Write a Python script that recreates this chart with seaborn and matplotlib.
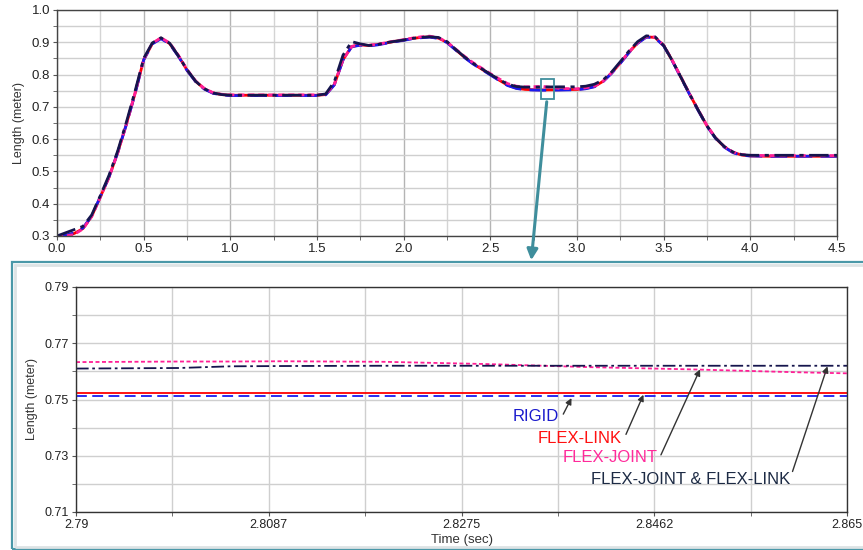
import numpy as np
import pandas as pd
import seaborn as sns
import matplotlib.pyplot as plt
from matplotlib.patches import Rectangle, FancyArrowPatch
from matplotlib.ticker import MultipleLocator, FixedLocator

# full run: time (sec) and cable length (meter) for the four models
t_full = [0.00, 0.05, 0.10, 0.15, 0.20, 0.25, 0.30, 0.35, 0.40, 0.45, 0.50, 0.55, 0.60, 0.65, 0.70,
          0.75, 0.80, 0.85, 0.90, 0.95, 1.00, 1.20, 1.40, 1.50, 1.55, 1.60, 1.65, 1.70, 1.75, 1.80,
          1.85, 1.90, 1.95, 2.00, 2.05, 2.10, 2.15, 2.20, 2.25, 2.30, 2.35, 2.40, 2.45, 2.50, 2.55,
          2.60, 2.65, 2.70, 2.75, 2.80, 2.90, 3.00, 3.05, 3.10, 3.15, 3.20, 3.25, 3.30, 3.35, 3.40,
          3.45, 3.50, 3.55, 3.60, 3.65, 3.70, 3.75, 3.80, 3.85, 3.90, 3.95, 4.00, 4.10, 4.30, 4.50]

rigid = [0.300, 0.302, 0.310, 0.325, 0.362, 0.422, 0.483, 0.558, 0.645, 0.740, 0.845, 0.895, 0.911, 0.895, 0.857,
         0.813, 0.778, 0.755, 0.742, 0.737, 0.735, 0.735, 0.735, 0.735, 0.737, 0.768, 0.845, 0.886, 0.891, 0.889,
         0.892, 0.897, 0.902, 0.906, 0.911, 0.914, 0.916, 0.912, 0.899, 0.876, 0.853, 0.833, 0.816, 0.799, 0.782,
         0.766, 0.757, 0.753, 0.752, 0.7515, 0.752, 0.753, 0.756, 0.762, 0.778, 0.804, 0.835, 0.868, 0.897, 0.916,
         0.914, 0.889, 0.842, 0.790, 0.738, 0.688, 0.640, 0.602, 0.575, 0.558, 0.550, 0.548, 0.547, 0.547, 0.547]

flex_link = [0.300, 0.301, 0.308, 0.323, 0.361, 0.421, 0.482, 0.558, 0.646, 0.741, 0.846, 0.896, 0.913, 0.896, 0.858,
             0.814, 0.779, 0.756, 0.743, 0.738, 0.736, 0.736, 0.736, 0.736, 0.738, 0.769, 0.846, 0.887, 0.892, 0.890,
             0.893, 0.898, 0.903, 0.907, 0.912, 0.915, 0.917, 0.913, 0.900, 0.877, 0.854, 0.834, 0.817, 0.800, 0.783,
             0.767, 0.758, 0.754, 0.753, 0.7525, 0.753, 0.754, 0.757, 0.763, 0.779, 0.805, 0.836, 0.869, 0.898, 0.917,
             0.915, 0.890, 0.843, 0.791, 0.739, 0.689, 0.641, 0.603, 0.576, 0.559, 0.551, 0.548, 0.547, 0.547, 0.547]

flex_joint = [0.300, 0.300, 0.305, 0.322, 0.360, 0.420, 0.482, 0.557, 0.645, 0.742, 0.847, 0.897, 0.914, 0.898, 0.860,
              0.816, 0.780, 0.757, 0.744, 0.739, 0.737, 0.737, 0.737, 0.737, 0.739, 0.770, 0.846, 0.887, 0.893, 0.891,
              0.894, 0.899, 0.904, 0.908, 0.913, 0.917, 0.919, 0.914, 0.901, 0.879, 0.857, 0.837, 0.820, 0.803, 0.787,
              0.772, 0.764, 0.762, 0.7625, 0.7635, 0.757, 0.756, 0.759, 0.764, 0.779, 0.806, 0.837, 0.870, 0.899, 0.918,
              0.916, 0.891, 0.844, 0.792, 0.740, 0.690, 0.642, 0.604, 0.577, 0.560, 0.552, 0.550, 0.549, 0.549, 0.549]

flex_both = [0.300, 0.310, 0.320, 0.330, 0.365, 0.425, 0.488, 0.563, 0.652, 0.748, 0.850, 0.898, 0.914, 0.897, 0.858,
             0.815, 0.779, 0.756, 0.743, 0.738, 0.736, 0.736, 0.736, 0.736, 0.740, 0.778, 0.860, 0.902, 0.895, 0.890,
             0.893, 0.899, 0.903, 0.907, 0.912, 0.915, 0.917, 0.915, 0.902, 0.878, 0.855, 0.835, 0.818, 0.801, 0.785,
             0.770, 0.763, 0.761, 0.761, 0.7615, 0.762, 0.762, 0.764, 0.770, 0.783, 0.808, 0.840, 0.873, 0.902, 0.920,
             0.917, 0.890, 0.843, 0.791, 0.739, 0.689, 0.641, 0.603, 0.577, 0.560, 0.552, 0.550, 0.550, 0.550, 0.550]

# zoomed window 2.79 - 2.865 s
t_zoom = [2.790, 2.800, 2.805, 2.810, 2.820, 2.830, 2.840, 2.850, 2.860, 2.865]
rigid_zoom = [0.7512, 0.7512, 0.7512, 0.7512, 0.7512, 0.7512, 0.7512, 0.7512, 0.7512, 0.7512]
flex_link_zoom = [0.7522, 0.7522, 0.7522, 0.7522, 0.7522, 0.7522, 0.7522, 0.7522, 0.7522, 0.7522]
flex_joint_zoom = [0.7633, 0.7635, 0.7635, 0.7636, 0.7634, 0.7626, 0.7615, 0.7607, 0.7597, 0.7593]
flex_both_zoom = [0.7610, 0.7612, 0.7618, 0.7619, 0.7620, 0.7620, 0.7620, 0.7620, 0.7620, 0.7620]

names = ['RIGID', 'FLEX-LINK', 'FLEX-JOINT', 'FLEX-JOINT & FLEX-LINK']
draw_order = ['FLEX-LINK', 'RIGID', 'FLEX-JOINT', 'FLEX-JOINT & FLEX-LINK']
colors = {'RIGID': '#1a1aee', 'FLEX-LINK': '#ff0000', 'FLEX-JOINT': '#ff1f96', 'FLEX-JOINT & FLEX-LINK': '#15154d'}
dashes = {'RIGID': (6, 3), 'FLEX-LINK': '', 'FLEX-JOINT': (2.2, 1.4), 'FLEX-JOINT & FLEX-LINK': (7, 2, 1.5, 2)}
label_colors = {'RIGID': '#1a1acc', 'FLEX-LINK': '#ff1010', 'FLEX-JOINT': '#ff2a9a', 'FLEX-JOINT & FLEX-LINK': '#1c2a44'}


def long_frame(t, cols):
    rows = []
    for name, vals in zip(names, cols):
        for x, y in zip(t, vals):
            rows.append([name, x, y])
    return pd.DataFrame(rows, columns=['model', 'time', 'length'])


df_full = long_frame(t_full, [rigid, flex_link, flex_joint, flex_both])
df_zoom = long_frame(t_zoom, [rigid_zoom, flex_link_zoom, flex_joint_zoom, flex_both_zoom])

sns.set_style('white')
plt.rcParams['font.family'] = ['Liberation Sans', 'DejaVu Sans']

fig = plt.figure(figsize=(8.63, 5.5), dpi=100)
W, H = 863.0, 550.0
ax_top = fig.add_axes([57 / W, 1 - 236 / H, (837 - 57) / W, (236 - 10) / H])
ax_bot = fig.add_axes([76 / W, 1 - 512 / H, (847 - 76) / W, (512 - 287) / H])

# --- top: whole motion
sns.lineplot(data=df_full, x='time', y='length', hue='model', style='model', hue_order=draw_order,
             style_order=draw_order, palette=colors, dashes=dashes, estimator=None, legend=False,
             linewidth=2.0, ax=ax_top)
ax_top.set_xlim(0, 4.5)
ax_top.set_ylim(0.3, 1.0)
ax_top.xaxis.set_major_locator(MultipleLocator(0.5))
ax_top.xaxis.set_minor_locator(MultipleLocator(0.25))
ax_top.yaxis.set_major_locator(MultipleLocator(0.1))
ax_top.yaxis.set_minor_locator(MultipleLocator(0.05))
ax_top.xaxis.set_major_formatter(plt.FormatStrFormatter('%.1f'))
ax_top.yaxis.set_major_formatter(plt.FormatStrFormatter('%.1f'))
ax_top.grid(True, which='major', axis='x', color='#b4b4b4', lw=1)
ax_top.grid(True, which='minor', axis='x', color='#d4d4d4', lw=1)
ax_top.grid(True, which='both', axis='y', color='#cfcfcf', lw=1)
ax_top.set_axisbelow(True)
ax_top.set_xlabel('')
ax_top.set_ylabel('Length (meter)', fontsize=9, color='#333333', labelpad=5)
ax_top.tick_params(which='both', bottom=True, left=True, direction='out', length=3,
                   color='#555555', labelsize=9.5, labelcolor='#222222', pad=2)
for s in ax_top.spines.values():
    s.set_color('#444444')
    s.set_linewidth(1)

# small box marking the zoom window
ax_top.add_patch(Rectangle((2.79, 0.724), 0.075, 0.062, fill=False, edgecolor='#3f8e9c', lw=1.3, zorder=5))

# --- bottom: zoomed window
sns.lineplot(data=df_zoom, x='time', y='length', hue='model', style='model', hue_order=draw_order,
             style_order=draw_order, palette=colors, dashes=dashes, estimator=None, legend=False,
             linewidth=1.3, ax=ax_bot)
ax_bot.set_xlim(2.79, 2.865)
ax_bot.set_ylim(0.71, 0.79)
ax_bot.xaxis.set_major_locator(FixedLocator([2.79, 2.80875, 2.8275, 2.84625, 2.865]))
ax_bot.set_xticklabels(['2.79', '2.8087', '2.8275', '2.8462', '2.865'])
ax_bot.xaxis.set_minor_locator(FixedLocator([2.799375, 2.818125, 2.836875, 2.855625]))
ax_bot.yaxis.set_major_locator(FixedLocator([0.71, 0.73, 0.75, 0.77, 0.79]))
ax_bot.yaxis.set_minor_locator(FixedLocator([0.72, 0.74, 0.76, 0.78]))
ax_bot.yaxis.set_major_formatter(plt.FormatStrFormatter('%.2f'))
ax_bot.grid(True, which='both', color='#cfcfcf', lw=1)
ax_bot.set_axisbelow(True)
ax_bot.set_xlabel('Time (sec)', fontsize=9.5, color='#333333', labelpad=2)
ax_bot.set_ylabel('Length (meter)', fontsize=9, color='#333333', labelpad=5)
ax_bot.tick_params(which='both', bottom=True, left=True, direction='out', length=3,
                   color='#555555', labelsize=9, labelcolor='#222222', pad=2)
for s in ax_bot.spines.values():
    s.set_color('#333333')
    s.set_linewidth(1)

# labels with arrows pointing at each line
label_pos = {'RIGID': (2.8347, 0.7438), 'FLEX-LINK': (2.8390, 0.7363),
             'FLEX-JOINT': (2.8420, 0.7292), 'FLEX-JOINT & FLEX-LINK': (2.8498, 0.7217)}
arrow_tail = {'RIGID': (2.8374, 0.7448), 'FLEX-LINK': (2.8435, 0.7376),
              'FLEX-JOINT': (2.8469, 0.7303), 'FLEX-JOINT & FLEX-LINK': (2.8597, 0.7244)}
arrow_head = {'RIGID': (2.8382, 0.7505), 'FLEX-LINK': (2.8452, 0.7517),
              'FLEX-JOINT': (2.8507, 0.7607), 'FLEX-JOINT & FLEX-LINK': (2.8631, 0.7618)}
for name in names:
    x, y = label_pos[name]
    ax_bot.text(x, y, name, color=label_colors[name], fontsize=12, ha='center', va='center')
    ax_bot.annotate('', xy=arrow_head[name], xytext=arrow_tail[name],
                    arrowprops=dict(arrowstyle='-|>', color='#333333', lw=1, mutation_scale=9,
                                    shrinkA=0, shrinkB=0))

# teal frame around the zoom panel (runs off the right edge) and the connecting arrow
fig.add_artist(Rectangle((12 / W, 1.5 / H), (880 - 12) / W, (288 - 1.5) / H, transform=fig.transFigure,
                         fill=False, edgecolor='#4a98a8', lw=1.6, zorder=-1))
fig.add_artist(Rectangle((15 / W, 3 / H), (880 - 15) / W, (285 - 3) / H, transform=fig.transFigure,
                         fill=False, edgecolor='#dde3e5', lw=2, zorder=-1))
fig.add_artist(FancyArrowPatch((547 / W, 1 - 99 / H), (531 / W, 1 - 263 / H), transform=fig.transFigure,
                               arrowstyle='-|>', mutation_scale=16, color='#3f8e9c', lw=2.2))

fig.savefig('out.png', dpi=100)
